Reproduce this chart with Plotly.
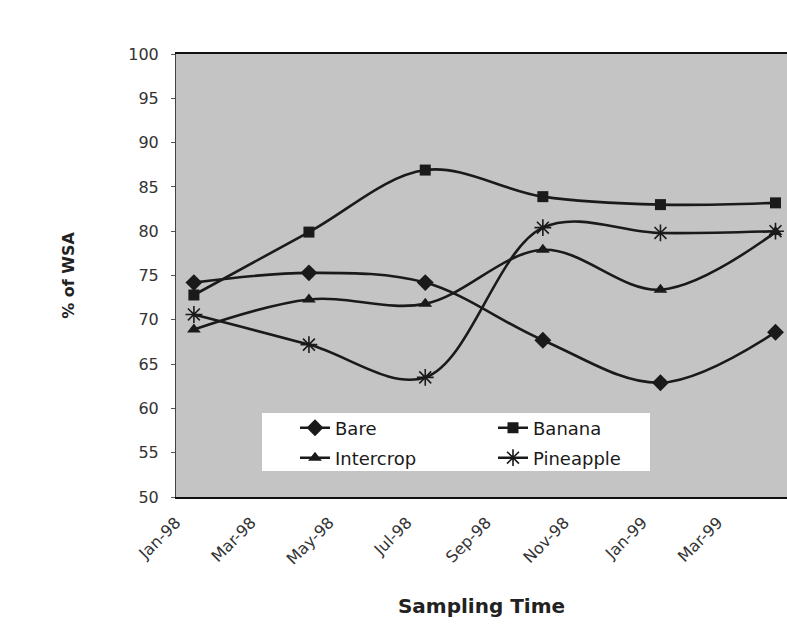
import plotly.graph_objects as go

# ---------------- data ----------------
sample_dates = ["1998-01-15", "1998-04-15", "1998-07-15",
                "1998-10-15", "1999-01-15", "1999-04-15"]
bare = [74.2, 75.3, 74.2, 67.7, 62.9, 68.6]
banana = [72.8, 79.9, 86.9, 83.9, 83.0, 83.2]
intercrop = [68.9, 72.3, 71.8, 77.9, 73.4, 79.9]
pineapple = [70.6, 67.2, 63.5, 80.4, 79.8, 80.0]

tick_dates = ["1998-01-01", "1998-03-01", "1998-05-01", "1998-07-01",
              "1998-09-01", "1998-11-01", "1999-01-01", "1999-03-01"]
tick_labels = ["Jan-98", "Mar-98", "May-98", "Jul-98",
               "Sep-98", "Nov-98", "Jan-99", "Mar-99"]
y_ticks = [50, 55, 60, 65, 70, 75, 80, 85, 90, 95, 100]

series_names = ["Bare", "Banana", "Intercrop", "Pineapple"]
series_values = [bare, banana, intercrop, pineapple]

# ---------------- styling ----------------
W, H = 787, 630
L, R, T, B = 176, 0, 54, 133
PW, PH = W - L - R, H - T - B

def px_x(px):
    return (px - L) / PW

def px_y(py):
    return (H - B - py) / PH

FONT = "DejaVu Sans"
INK = "#1a1a1a"
symbols = {"Bare": ("diamond", 13, 0), "Banana": ("square", 11, 0),
           "Intercrop": ("triangle-up", 12, 0), "Pineapple": ("asterisk", 14, 1.6)}
legend_ids = {"Bare": "legend", "Banana": "legend2",
              "Intercrop": "legend3", "Pineapple": "legend4"}

fig = go.Figure()
for name, vals in zip(series_names, series_values):
    sym, size, lw = symbols[name]
    fig.add_trace(go.Scatter(
        x=sample_dates, y=vals, name=name, mode="lines+markers",
        line=dict(color=INK, width=2.6, shape="spline", smoothing=1.0),
        marker=dict(symbol=sym, size=size, color=INK,
                    line=dict(color=INK, width=lw)),
        legend=legend_ids[name], showlegend=True,
    ))

leg_common = dict(font=dict(family=FONT, size=18, color=INK),
                  bgcolor="rgba(0,0,0,0)", borderwidth=0,
                  xanchor="left", yanchor="middle", itemwidth=30)
col_x = [px_x(295), px_x(493)]
row_y = [px_y(428), px_y(458)]

fig.update_layout(
    width=W, height=H,
    showlegend=True,
    margin=dict(l=L, r=R, t=T, b=B, autoexpand=False),
    paper_bgcolor="white",
    plot_bgcolor="#c4c4c4",
    font=dict(family=FONT, color="#333333"),
    legend=dict(x=col_x[0], y=row_y[0], visible=True, **leg_common),
    legend2=dict(x=col_x[1], y=row_y[0], **leg_common),
    legend3=dict(x=col_x[0], y=row_y[1], **leg_common),
    legend4=dict(x=col_x[1], y=row_y[1], **leg_common),
    xaxis=dict(
        type="date",
        range=["1998-01-01", "1999-04-24"],
        tickvals=tick_dates, ticktext=tick_labels,
        tickangle=-45,
        tickfont=dict(family=FONT, size=16, color="#333333"),
        ticks="", ticklabelstandoff=8,
        showgrid=False, zeroline=False,
        showline=True, linecolor="#111111", linewidth=2, mirror=True,
        automargin=False,
        title=dict(text="<b>Sampling Time</b>", standoff=32,
                   font=dict(family=FONT, size=20, color="#222222")),
    ),
    yaxis=dict(
        range=[50, 100], tickvals=y_ticks,
        tickfont=dict(family=FONT, size=16, color="#333333"),
        ticks="outside", ticklen=4, tickcolor="#555555", ticklabelstandoff=9,
        showgrid=False, zeroline=False,
        showline=True, linecolor="#444444", linewidth=1,
        automargin=False,
        title=dict(text="<b>% of WSA</b>", standoff=49,
                   font=dict(family=FONT, size=16, color="#222222")),
    ),
    shapes=[dict(type="rect", xref="paper", yref="paper",
                 x0=px_x(262), x1=px_x(650), y0=px_y(471), y1=px_y(413),
                 fillcolor="white", line=dict(width=0), layer="below")],
)

fig.write_html("out.html")
